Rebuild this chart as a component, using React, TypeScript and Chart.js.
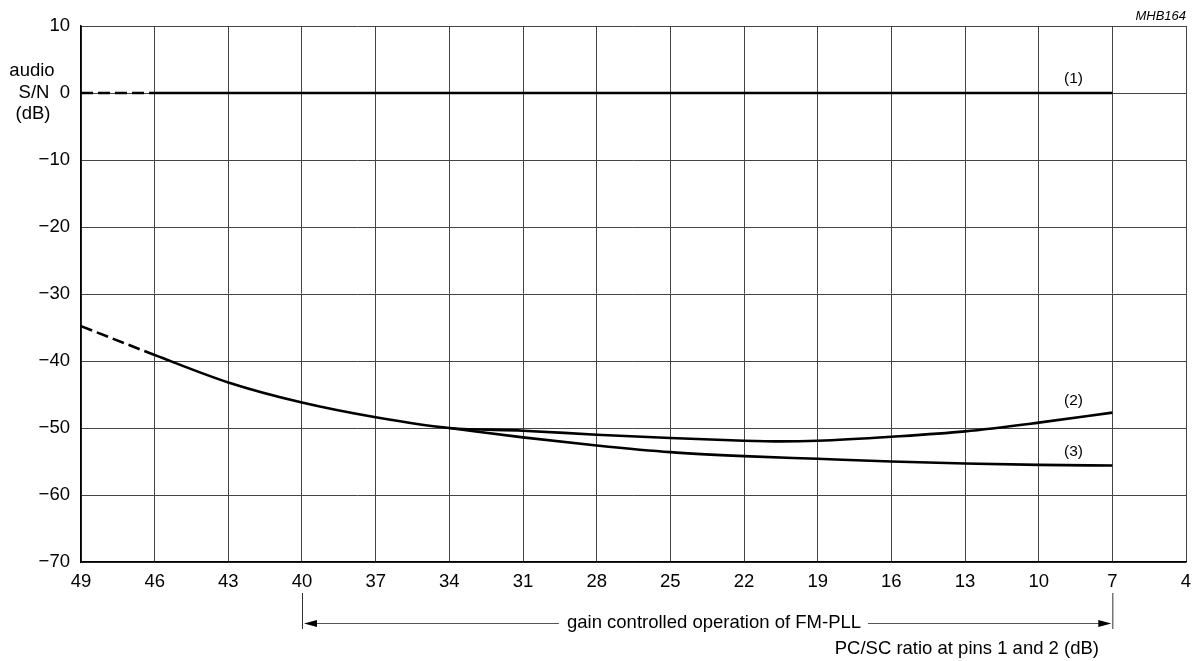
import React, { useEffect, useRef } from "react";
import { Chart, registerables } from "chart.js";

Chart.register(...registerables);

const curve1X = [49, 46, 7];
const curve1Y = [0, 0, 0];

const curve2X = [49, 46, 43, 40, 37, 34, 31, 28, 25, 22, 20.5, 19, 16, 13, 10, 7];
const curve2Y = [-34.8, -39.1, -43.2, -46.2, -48.4, -50.0, -50.4, -51.0, -51.5, -51.9, -52.0, -51.9, -51.3, -50.5, -49.2, -47.7];

const curve3X = [34, 31, 28, 25, 22, 19, 16, 13, 10, 7];
const curve3Y = [-50.0, -51.4, -52.6, -53.6, -54.2, -54.6, -55.0, -55.3, -55.5, -55.6];

const curveLabels = ["(1)", "(2)", "(3)"];
const curveLabelX = [8.58, 8.58, 8.58];
const curveLabelY = [2.2, -46.0, -53.5];

const xMin = 4;
const xMax = 49;
const xStep = 3;
const yMin = -70;
const yMax = 10;
const yStep = 10;

const dashedUntil = 46;
const rangeStart = 40;
const rangeEnd = 7;

const yTitleLines = ["audio", "S/N", "(dB)"];
const xTitle = "PC/SC ratio at pins 1 and 2 (dB)";
const rangeText = "gain controlled operation of FM-PLL";
const figureCode = "MHB164";

const FONT = "'Liberation Sans', Arial, Helvetica, sans-serif";
const FS = 18.5;

function pts(xs: number[], ys: number[]) {
  return xs.map((x, i) => ({ x, y: ys[i] }));
}

export default function App() {
  const ref = useRef<HTMLCanvasElement | null>(null);

  useEffect(() => {
    const canvas = ref.current;
    if (!canvas) return;
    document.body.style.margin = "0";

    const dashSeg = {
      borderDash: (ctx: any) => (ctx.p0.parsed.x > dashedUntil ? [12, 5] : undefined),
    };

    const overlay = {
      id: "overlay",
      afterDraw(chart: any) {
        const { ctx, scales } = chart;
        const xs = scales.x;
        const ys = scales.y;
        ctx.save();
        ctx.fillStyle = "#000";
        ctx.strokeStyle = "#000";

        // y title
        ctx.font = `${FS}px ${FONT}`;
        ctx.textAlign = "center";
        ctx.textBaseline = "middle";
        const y0 = ys.getPixelForValue(0);
        ctx.fillText(yTitleLines[0], 32, y0 - 22);
        ctx.fillText(yTitleLines[1], 34, y0);
        ctx.fillText(yTitleLines[2], 33, y0 + 21);

        // curve labels
        ctx.font = `15.5px ${FONT}`;
        curveLabels.forEach((t, i) => {
          ctx.fillText(t, xs.getPixelForValue(curveLabelX[i]), ys.getPixelForValue(curveLabelY[i]));
        });

        // figure code
        ctx.font = `italic 13px ${FONT}`;
        ctx.textAlign = "right";
        ctx.fillText(figureCode, chart.chartArea.right, 16);

        // range annotation
        const xa = xs.getPixelForValue(rangeStart);
        const xb = xs.getPixelForValue(rangeEnd);
        const ay = 623;
        ctx.lineWidth = 1;
        ctx.strokeStyle = "#333";
        ctx.beginPath();
        ctx.moveTo(xa + 0.5, 593);
        ctx.lineTo(xa + 0.5, 629);
        ctx.moveTo(xb + 0.5, 593);
        ctx.lineTo(xb + 0.5, 629);
        ctx.stroke();

        ctx.font = `${FS}px ${FONT}`;
        const tw = ctx.measureText(rangeText).width;
        const tc = 714;
        const tl = tc - tw / 2;
        const tr = tc + tw / 2;
        ctx.textAlign = "left";
        ctx.fillText(rangeText, tl, ay);
        ctx.strokeStyle = "#555";
        ctx.beginPath();
        ctx.moveTo(xa + 10, ay + 0.5);
        ctx.lineTo(tl - 8, ay + 0.5);
        ctx.moveTo(tr + 7, ay + 0.5);
        ctx.lineTo(xb - 10, ay + 0.5);
        ctx.stroke();
        // arrowheads
        ctx.fillStyle = "#000";
        ctx.beginPath();
        ctx.moveTo(xa + 2, ay + 0.5);
        ctx.lineTo(xa + 15, ay - 3);
        ctx.lineTo(xa + 15, ay + 4);
        ctx.closePath();
        ctx.fill();
        ctx.beginPath();
        ctx.moveTo(xb - 1, ay + 0.5);
        ctx.lineTo(xb - 14, ay - 3);
        ctx.lineTo(xb - 14, ay + 4);
        ctx.closePath();
        ctx.fill();

        // x title
        ctx.textAlign = "right";
        ctx.font = `${FS}px ${FONT}`;
        ctx.fillText(xTitle, 1099, 649);
        ctx.restore();
      },
    };

    const chart = new Chart(canvas, {
      type: "line",
      data: {
        datasets: [
          { data: pts(curve1X, curve1Y), segment: dashSeg },
          { data: pts(curve2X, curve2Y), segment: dashSeg },
          { data: pts(curve3X, curve3Y), segment: dashSeg },
        ].map((d) => ({
          ...d,
          borderColor: "#000",
          borderWidth: 2.6,
          pointRadius: 0,
          fill: false,
          cubicInterpolationMode: "monotone" as const,
          tension: 0.4,
        })),
      },
      options: {
        responsive: false,
        animation: false,
        devicePixelRatio: 1,
        layout: { padding: { left: 0, right: 8, top: 26, bottom: 0 } },
        plugins: { legend: { display: false }, tooltip: { enabled: false }, title: { display: false } },
        scales: {
          x: {
            type: "linear",
            reverse: true,
            min: xMin,
            max: xMax,
            afterFit: (s: any) => {
              s.height = 99;
              s.paddingLeft = 0;
              s.paddingRight = 0;
            },
            ticks: {
              stepSize: xStep,
              color: "#000",
              font: { family: FONT, size: FS },
              padding: 9,
              maxRotation: 0,
              autoSkip: false,
            },
            grid: { color: "#444", lineWidth: 1, drawTicks: false },
            border: { color: "#000", width: 1.5 },
          },
          y: {
            type: "linear",
            min: yMin,
            max: yMax,
            afterFit: (s: any) => {
              s.width = 81;
              s.paddingTop = 0;
              s.paddingBottom = 0;
            },
            ticks: {
              stepSize: yStep,
              color: "#000",
              font: { family: FONT, size: FS },
              padding: 11,
              callback: (v: any) => String(v).replace("-", "\u2212"),
            },
            grid: { color: "#444", lineWidth: 1, drawTicks: false },
            border: { color: "#000", width: 1.5 },
          },
        },
      },
      plugins: [overlay],
    });

    return () => chart.destroy();
  }, []);

  return (
    <div style={{ position: "absolute", left: 0, top: 0, width: 1194, height: 661, background: "#fff" }}>
      <canvas ref={ref} width={1194} height={661} style={{ width: 1194, height: 661 }} />
    </div>
  );
}
